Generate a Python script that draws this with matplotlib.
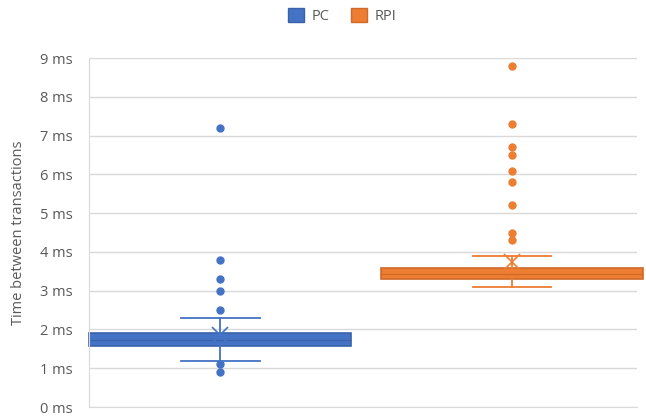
import matplotlib
matplotlib.use("Agg")
import matplotlib.pyplot as plt
from matplotlib.patches import Patch

plt.rcParams['font.family'] = ['Open Sans', 'DejaVu Sans']

categories = ["PC", "RPI"]
q1 = [1.57, 3.30]
median = [1.73, 3.43]
q3 = [1.91, 3.58]
whis_lo = [1.19, 3.09]
whis_hi = [2.29, 3.89]
means = [1.85, 3.74]
outliers = [
    [7.2, 3.8, 3.3, 3.0, 2.5, 1.1, 0.9],
    [8.8, 7.3, 6.7, 6.5, 6.1, 5.8, 5.2, 4.5, 4.3],
]
yticks = list(range(0, 10))
ytick_labels = [f"{v} ms" for v in yticks]

face = ["#4472C4", "#ED7D31"]
edge = ["#3A62AA", "#D0692A"]
text_c = "#595959"

fig = plt.figure(figsize=(6.46, 4.18), dpi=100)
ax = fig.add_axes([0.1378, 0.0263, 0.986 - 0.1378, 0.861 - 0.0263])

for i, cat in enumerate(categories):
    st = [dict(label=cat, med=median[i], q1=q1[i], q3=q3[i],
               whislo=whis_lo[i], whishi=whis_hi[i], mean=means[i],
               fliers=outliers[i])]
    b = ax.bxp(st, positions=[i + 1], widths=0.9, patch_artist=True,
               showmeans=True, capwidths=0.27,
               boxprops=dict(facecolor=face[i], edgecolor=edge[i], linewidth=1.2),
               medianprops=dict(color=edge[i], linewidth=0.8),
               whiskerprops=dict(color=face[i], linewidth=1.3),
               capprops=dict(color=face[i], linewidth=1.3),
               meanprops=dict(marker='x', markeredgecolor=face[i], markersize=11,
                              markeredgewidth=1.2),
               flierprops=dict(marker='o', markerfacecolor=face[i],
                               markeredgecolor=face[i], markersize=5))
    for art in b['boxes']:
        art.set_clip_on(False)
    for art in b['medians']:
        art.set_clip_on(False)

ax.set_xlim(0.551, 2.428)
ax.set_ylim(0, 9)
ax.set_yticks(yticks)
ax.set_yticklabels(ytick_labels)
ax.set_xticks([])
ax.grid(axis='y', color='#D9D9D9', linewidth=1)
ax.set_axisbelow(True)
for s in ['top', 'right']:
    ax.spines[s].set_visible(False)
ax.spines['left'].set_color('#D9D9D9')
ax.spines['bottom'].set_color('#D9D9D9')
ax.tick_params(axis='y', length=0, colors=text_c, labelsize=10.5, pad=12)
ax.set_ylabel("Time between transactions", color=text_c, fontsize=10.5, labelpad=10)

handles = [Patch(facecolor=face[i], edgecolor=edge[i], label=c) for i, c in enumerate(categories)]
fig.legend(handles=handles, loc='center', bbox_to_anchor=(0.53, 0.962), ncol=2,
           frameon=False, fontsize=10.5, labelcolor=text_c, handlelength=1.1,
           handleheight=1.1, columnspacing=1.5, handletextpad=0.5)

fig.savefig("out.png", dpi=100)
